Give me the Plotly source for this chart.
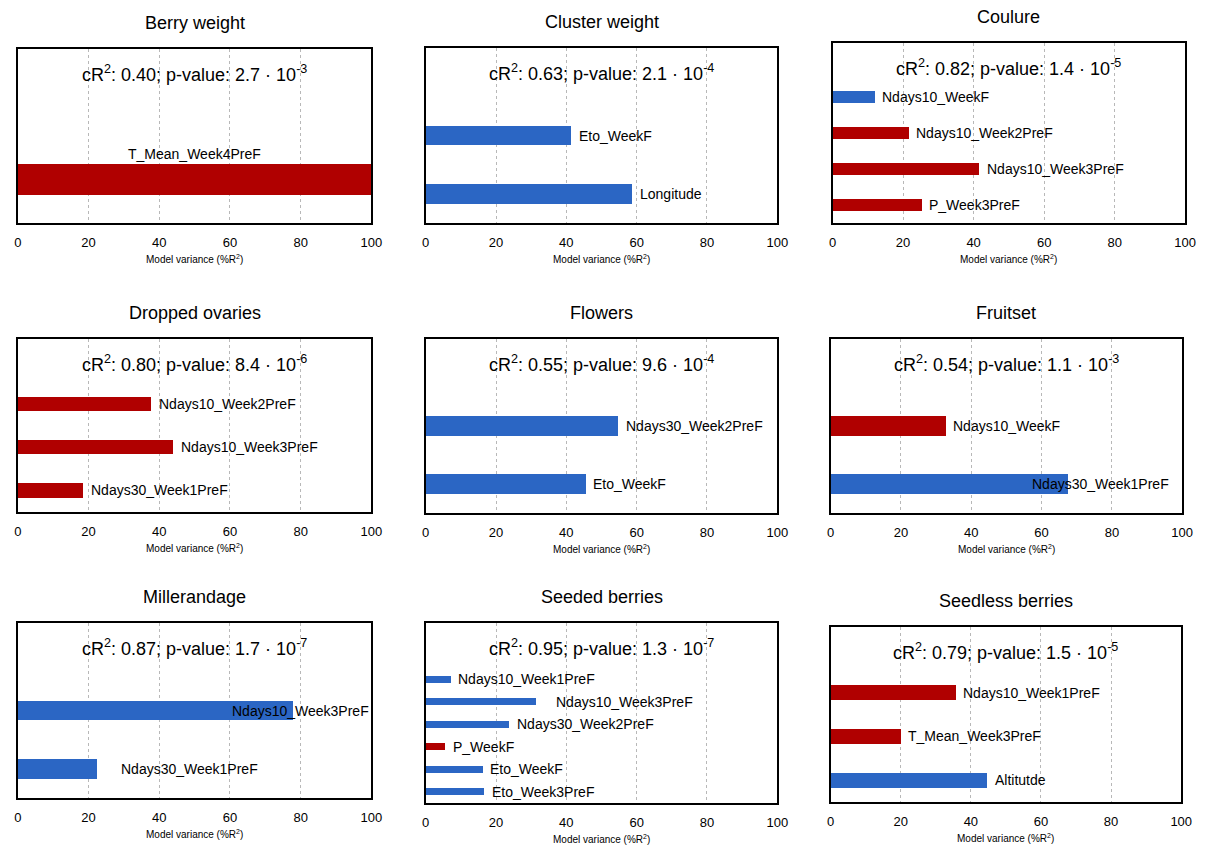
import plotly.graph_objects as go

# ---------------- data ----------------
titles = ["Berry weight", "Cluster weight", "Coulure",
          "Dropped ovaries", "Flowers", "Fruitset",
          "Millerandage", "Seeded berries", "Seedless berries"]
cr2 = ["0.40", "0.63", "0.82", "0.80", "0.55", "0.54", "0.87", "0.95", "0.79"]
p_mantissa = ["2.7", "2.1", "1.4", "8.4", "9.6", "1.1", "1.7", "1.3", "1.5"]
p_exponent = ["-3", "-4", "-5", "-6", "-4", "-3", "-7", "-7", "-5"]

berry_vars = ["T_Mean_Week4PreF"]
berry_vals = [100.0]
berry_eff = ["r"]

cluster_vars = ["Eto_WeekF", "Longitude"]
cluster_vals = [41.3, 58.7]
cluster_eff = ["b", "b"]

coulure_vars = ["Ndays10_WeekF", "Ndays10_Week2PreF", "Ndays10_Week3PreF", "P_Week3PreF"]
coulure_vals = [11.8, 21.5, 41.5, 25.2]
coulure_eff = ["b", "r", "r", "r"]

dropped_vars = ["Ndays10_Week2PreF", "Ndays10_Week3PreF", "Ndays30_Week1PreF"]
dropped_vals = [37.7, 43.8, 18.5]
dropped_eff = ["r", "r", "r"]

flowers_vars = ["Ndays30_Week2PreF", "Eto_WeekF"]
flowers_vals = [54.6, 45.4]
flowers_eff = ["b", "b"]

fruitset_vars = ["Ndays10_WeekF", "Ndays30_Week1PreF"]
fruitset_vals = [32.6, 67.4]
fruitset_eff = ["r", "b"]

miller_vars = ["Ndays10_Week3PreF", "Ndays30_Week1PreF"]
miller_vals = [77.7, 22.3]
miller_eff = ["b", "b"]

seeded_vars = ["Ndays10_Week1PreF", "Ndays10_Week3PreF", "Ndays30_Week2PreF",
               "P_WeekF", "Eto_WeekF", "Eto_Week3PreF"]
seeded_vals = [7.0, 31.3, 23.6, 5.4, 16.1, 16.6]
seeded_eff = ["b", "b", "b", "r", "b", "b"]

seedless_vars = ["Ndays10_Week1PreF", "T_Mean_Week3PreF", "Altitutde"]
seedless_vals = [35.6, 19.9, 44.5]
seedless_eff = ["r", "r", "b"]

x_ticks = [0, 20, 40, 60, 80, 100]

panels_vars = [berry_vars, cluster_vars, coulure_vars, dropped_vars, flowers_vars,
               fruitset_vars, miller_vars, seeded_vars, seedless_vars]
panels_vals = [berry_vals, cluster_vals, coulure_vals, dropped_vals, flowers_vals,
               fruitset_vals, miller_vals, seeded_vals, seedless_vals]
panels_eff = [berry_eff, cluster_eff, coulure_eff, dropped_eff, flowers_eff,
              fruitset_eff, miller_eff, seeded_eff, seedless_eff]

# ---------------- style / layout ----------------
W, H = 1210, 847
COLORS = {"r": "#B00000", "b": "#2B66C4"}
FONT = "Liberation Sans, Arial, sans-serif"

# panel boxes in pixels (left, top, right, bottom)
boxes = [(14, 49, 372, 223), (427, 48, 783, 223), (839, 43, 1196, 223),
         (14, 339, 372, 512), (427, 339, 783, 513), (837, 339, 1193, 513),
         (14, 623, 372, 798), (427, 623, 783, 803), (837, 627, 1192, 802)]
extra_slots = [1, 1, 1, 1, 1, 1, 1, 2, 1]
bar_width = [0.36, 0.34, 0.36, 0.34, 0.34, 0.34, 0.34, 0.31, 0.34]
# label placement tweaks (pixels)
label_style = {(0, 0): dict(mode="above", yshift=26),
               (6, 0): dict(xshift=-63),
               (6, 1): dict(xshift=22),
               (5, 1): dict(xshift=-38),
               (7, 1): dict(xshift=18)}

fig = go.Figure()
annotations = []
layout_axes = {}

for i in range(9):
    k = "" if i == 0 else str(i + 1)
    xa, ya = "x" + k, "y" + k
    left, top, right, bottom = boxes[i]
    names, vals, effs = panels_vars[i], panels_vals[i], panels_eff[i]
    n = len(vals)
    pos = [n - 1 - j for j in range(n)]

    fig.add_trace(go.Bar(
        x=vals, y=pos, orientation="h", xaxis=xa, yaxis=ya,
        marker=dict(color=[COLORS[e] for e in effs], line=dict(width=0)),
        width=bar_width[i], showlegend=False, hoverinfo="skip"))

    layout_axes["xaxis" + k] = dict(
        domain=[left / W, right / W], anchor=ya, range=[0, 100],
        tickvals=x_ticks, showgrid=True, gridcolor="#b8b8b8", griddash="dot",
        gridwidth=1, zeroline=False, showline=True, linecolor="black",
        linewidth=1.5, mirror=True, ticks="", ticklabelstandoff=7,
        tickfont=dict(family=FONT, size=13, color="black"), fixedrange=True)
    layout_axes["yaxis" + k] = dict(
        domain=[1 - bottom / H, 1 - top / H], anchor=xa,
        range=[-0.5, n - 0.5 + extra_slots[i]], showticklabels=False,
        showgrid=False, zeroline=False, showline=True, linecolor="black",
        linewidth=1.5, mirror=True, ticks="", fixedrange=True)

    cx = (left + right) / 2 / W
    # title
    annotations.append(dict(text=titles[i], x=cx, y=1 - (top - 26) / H,
                            xref="paper", yref="paper", showarrow=False,
                            xanchor="center", yanchor="middle",
                            font=dict(family=FONT, size=18, color="black")))
    # stats
    annotations.append(dict(
        text=f"cR<sup>2</sup>: {cr2[i]}; p-value: {p_mantissa[i]} · 10<sup>{p_exponent[i]}</sup>",
        x=cx, y=1 - (top + 24) / H, xref="paper", yref="paper", showarrow=False,
        xanchor="center", yanchor="middle",
        font=dict(family=FONT, size=18, color="black")))
    # x axis title
    annotations.append(dict(text="Model variance (%R<sup>2</sup>)", x=cx,
                            y=1 - (bottom + 36) / H, xref="paper", yref="paper",
                            showarrow=False, xanchor="center", yanchor="middle",
                            font=dict(family=FONT, size=10, color="black")))
    # bar labels
    for j in range(n):
        st = label_style.get((i, j), {})
        if st.get("mode") == "above":
            annotations.append(dict(text=names[j], x=vals[j] / 2, y=pos[j],
                                    xref=xa, yref=ya, showarrow=False,
                                    xanchor="center", yanchor="middle",
                                    yshift=st["yshift"],
                                    font=dict(family=FONT, size=14, color="black")))
        else:
            annotations.append(dict(text=names[j], x=vals[j], y=pos[j],
                                    xref=xa, yref=ya, showarrow=False,
                                    xanchor="left", yanchor="middle",
                                    xshift=st.get("xshift", 6),
                                    font=dict(family=FONT, size=14, color="black")))

fig.update_layout(
    width=W, height=H, autosize=False,
    margin=dict(l=0, r=0, t=0, b=0),
    paper_bgcolor="white", plot_bgcolor="white",
    annotations=annotations, bargap=0, **layout_axes)

fig.write_html("out.html", config={"displayModeBar": False},
               post_script="document.body.style.margin='0';"
                           "document.body.style.overflow='hidden';")
